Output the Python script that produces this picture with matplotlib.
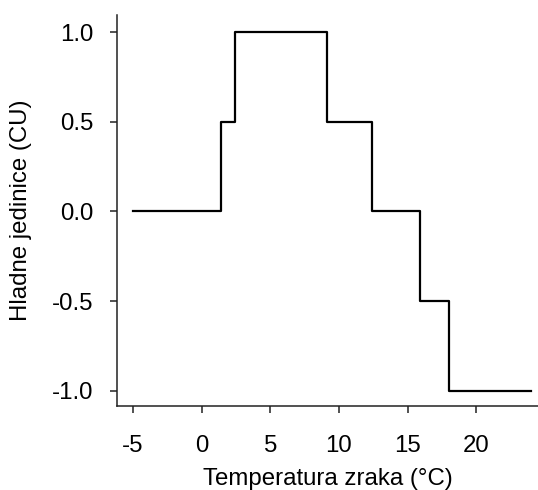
import matplotlib
matplotlib.use("Agg")
import matplotlib.pyplot as plt

# Utah model chill units vs air temperature (step thresholds)
temps = [-5.0, 1.4, 2.4, 9.1, 12.4, 15.9, 18.0, 24.0]
chill_units = [0.0, 0.5, 1.0, 0.5, 0.0, -0.5, -1.0, -1.0]
x_ticks = [-5, 0, 5, 10, 15, 20]
y_ticks = [-1.0, -0.5, 0.0, 0.5, 1.0]
y_tick_labels = ["-1.0", "-0.5", "0.0", "0.5", "1.0"]

plt.rcParams["font.family"] = ["Liberation Sans", "DejaVu Sans"]
plt.rcParams["axes.unicode_minus"] = False

fig = plt.figure(figsize=(5.38, 4.90), dpi=100)
ax = fig.add_axes([117 / 538, 84 / 490, 421 / 538, 391 / 490])

ax.step(temps, chill_units, where="post", color="black", linewidth=1.6)

ax.set_xlim(-6.17, 24.5)
ax.set_ylim(-1.084, 1.095)
ax.set_xticks(x_ticks)
ax.set_yticks(y_ticks)
ax.set_yticklabels(y_tick_labels)

for side in ("top", "right"):
    ax.spines[side].set_visible(False)
for side in ("left", "bottom"):
    ax.spines[side].set_linewidth(1.1)
    ax.spines[side].set_color("#222222")

ax.tick_params(axis="both", direction="out", length=5, width=1.1, color="#222222", labelsize=17.3)
ax.tick_params(axis="y", pad=12)
ax.tick_params(axis="x", pad=16)

ax.set_xlabel("Temperatura zraka (°C)", fontsize=17.3, labelpad=8)
ax.set_ylabel("Hladne jedinice (CU)", fontsize=17.3, labelpad=14)

fig.savefig("out.png", dpi=100)
